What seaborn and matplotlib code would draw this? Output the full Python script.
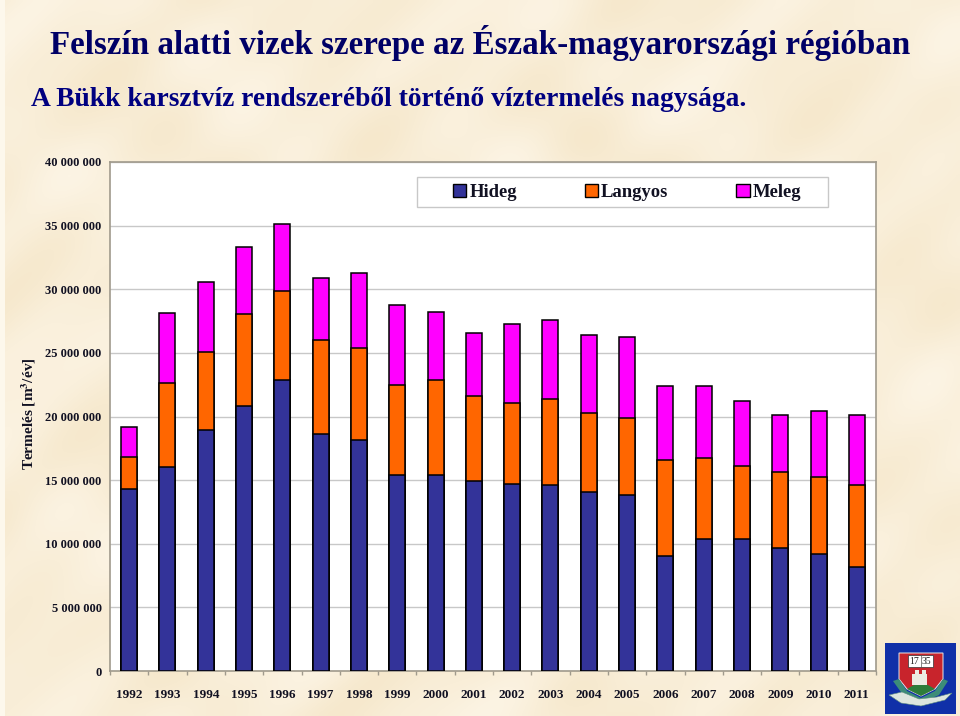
import matplotlib
matplotlib.use('Agg')
import matplotlib.pyplot as plt
from matplotlib.patches import Patch, Polygon, Rectangle
import numpy as np
import pandas as pd
import seaborn as sns

years = list(range(1992, 2012))
hideg = [14.3, 16.0, 18.95, 20.8, 22.9, 18.6, 18.15, 15.4, 15.4, 14.9,
         14.7, 14.6, 14.1, 13.8, 9.05, 10.4, 10.4, 9.7, 9.2, 8.2]
langyos = [2.5, 6.6, 6.1, 7.25, 7.0, 7.4, 7.2, 7.1, 7.45, 6.7,
           6.35, 6.8, 6.2, 6.05, 7.55, 6.3, 5.7, 5.95, 6.05, 6.4]
meleg = [2.4, 5.55, 5.5, 5.3, 5.2, 4.9, 5.9, 6.3, 5.35, 5.0,
         6.25, 6.15, 6.1, 6.4, 5.8, 5.7, 5.1, 4.5, 5.2, 5.55]

title = 'Felszín alatti vizek szerepe az Észak-magyarországi régióban'
subtitle = 'A Bükk karsztvíz rendszeréből történő víztermelés nagysága.'
yticks = [0, 5, 10, 15, 20, 25, 30, 35, 40]
ylabels = ['0', '5 000 000', '10 000 000', '15 000 000', '20 000 000',
           '25 000 000', '30 000 000', '35 000 000', '40 000 000']

colors = {'Hideg': '#333399', 'Langyos': '#FF6600', 'Meleg': '#FF00FF'}
bg = '#FAF0DC'

sns.set_theme(style='white')
plt.rcParams['font.family'] = ['Liberation Serif', 'DejaVu Serif']

W, H = 960, 716
fig = plt.figure(figsize=(W / 100, H / 100), dpi=100, facecolor=bg)

# parchment mottling behind everything
back = fig.add_axes([0, 0, 1, 1], zorder=-1)
yy, xx = np.mgrid[0:H:4, 0:W:4]
tex = (np.sin(xx / 37 + np.sin(yy / 53) * 2) + np.sin(yy / 29 + np.sin(xx / 61) * 2)
       + 0.6 * np.sin((xx + yy) / 17))
back.imshow(tex, cmap=sns.blend_palette(['#F6E8CC', '#FCF4E4'], as_cmap=True),
            extent=[0, W, H, 0], aspect='auto', interpolation='bicubic')
back.add_patch(Rectangle((0, 0), 5, H, color='#FDF8EC', lw=0))
back.set_xlim(0, W)
back.set_ylim(H, 0)
back.axis('off')

ax = fig.add_axes([110 / W, 1 - 671 / H, 766 / W, 509 / H])

df = pd.DataFrame({'year': years, 'Hideg': hideg, 'Langyos': langyos, 'Meleg': meleg})
df['c1'] = df['Hideg']
df['c2'] = df['c1'] + df['Langyos']
df['c3'] = df['c2'] + df['Meleg']

# stacked look: tallest first, the shorter ones painted over it
for col, name in [('c3', 'Meleg'), ('c2', 'Langyos'), ('c1', 'Hideg')]:
    sns.barplot(data=df, x='year', y=col, color=colors[name], saturation=1,
                width=0.42, edgecolor='black', linewidth=1.1, ax=ax, zorder=3)

ax.set_xlim(-0.5, 19.5)
ax.set_ylim(0, 40)
ax.set_yticks(yticks)
ax.set_yticklabels(ylabels)
ax.grid(axis='y', color='#c8c8c8', lw=1, zorder=0)
ax.set_axisbelow(True)
ax.set_facecolor('white')
for s in ax.spines.values():
    s.set_color('#a09a8c')
    s.set_linewidth(1.2)
ax.tick_params(axis='y', length=3, color='#a09a8c', pad=3, labelsize=9)
ax.tick_params(axis='x', which='major', length=0, pad=13, labelsize=9.5)
ax.set_xticks(np.arange(-0.5, 20), minor=True)
ax.tick_params(axis='x', which='minor', bottom=True, length=3, color='#a09a8c')
ax.set_xlabel('')
ax.set_ylabel('')
for lab in ax.get_xticklabels() + ax.get_yticklabels():
    lab.set_fontweight('bold')
    lab.set_color('#111122')

fig.text(29 / W, 1 - 414 / H, 'Termelés [m$^{\\mathbf{3}}$/év]', rotation=90, ha='center', va='center',
         fontsize=11, fontweight='bold', color='#111122',
         math_fontfamily='stix')

fig.text(50 / W, 1 - 43 / H, title, fontsize=23.8, fontweight='bold', color='#000066', va='center')
fig.text(31 / W, 1 - 100 / H, subtitle, fontsize=19.85, fontweight='bold', color='#000080', va='center')

ax.add_patch(Rectangle(((417 - 110) / 766, (671 - 207) / 509), 411 / 766, 30 / 509,
                       transform=ax.transAxes, facecolor='white', edgecolor='#c8c8c8',
                       lw=1, zorder=4))
handles = [Patch(facecolor=colors[n], edgecolor='black', label=n) for n in colors]
leg = ax.legend(handles=handles, ncol=3, loc='center left',
                bbox_to_anchor=((453 - 110) / 766, (671 - 192.5) / 509),
                frameon=False, prop={'weight': 'bold', 'size': 13.4},
                handlelength=0.7, handleheight=0.7,
                handletextpad=0.18, columnspacing=3.65, borderpad=0, borderaxespad=0)
leg.set_zorder(5)
for t in leg.get_texts():
    t.set_color('#111122')

# university crest, corner
lg = fig.add_axes([885 / W, 1 - 714 / H, 71 / W, 71 / H])
lg.set_xlim(0, 71)
lg.set_ylim(71, 0)
lg.axis('off')
lg.add_patch(Rectangle((0, 0), 71, 71, color='#1030A8', lw=0))
lg.add_patch(Polygon([(14, 10), (58, 10), (58, 36), (50, 46), (36, 53), (22, 46), (14, 36)],
                     facecolor='#C8242C', edgecolor='#E8E8E8', lw=0.7))
lg.add_patch(Polygon([(22, 46), (36, 38), (50, 46), (36, 53)], facecolor='#2E7D3A', lw=0))
lg.add_patch(Rectangle((23, 12), 25, 12, facecolor='white', edgecolor='#333333', lw=0.5))
lg.plot([35.5, 35.5], [12, 24], color='#555555', lw=0.5)
lg.text(29.5, 18, '17', fontsize=7, ha='center', va='center', color='#222222')
lg.text(41.5, 18, '35', fontsize=7, ha='center', va='center', color='#222222')
lg.add_patch(Rectangle((27, 31), 15, 11, facecolor='#ECECE2', lw=0))
lg.add_patch(Rectangle((30, 27), 4, 5, facecolor='#ECECE2', lw=0))
lg.add_patch(Rectangle((37, 27), 4, 5, facecolor='#ECECE2', lw=0))
lg.add_patch(Polygon([(8, 38), (14, 36), (22, 48), (36, 55), (50, 48), (58, 36), (63, 38),
                      (54, 52), (36, 60), (18, 52)], facecolor='#3C8C78', lw=0))
lg.add_patch(Polygon([(4, 52), (17, 49), (34, 56), (52, 54), (67, 50), (60, 57), (36, 63), (16, 60)],
                     facecolor='#DDE6DE', edgecolor='#5F8F80', lw=0.4))

fig.savefig('out.png', dpi=100, facecolor=bg)
